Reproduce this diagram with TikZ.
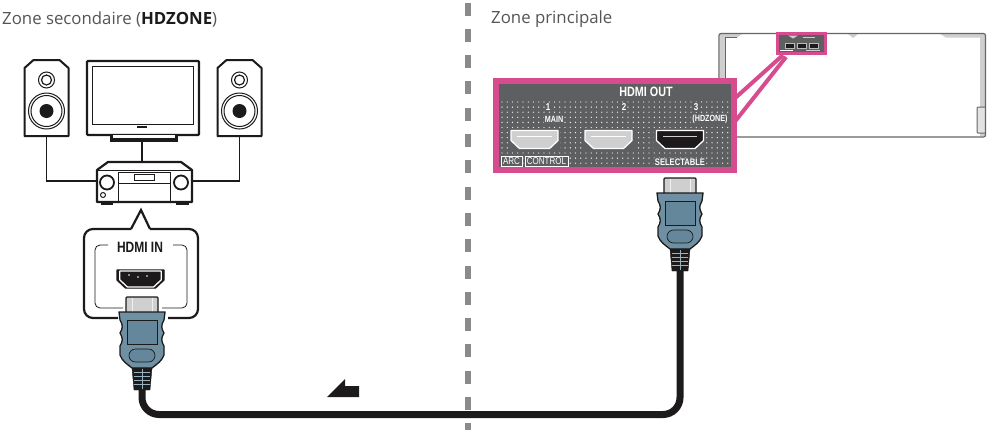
\documentclass[tikz,border=0pt]{standalone}
\usepackage{fontspec}
\setmainfont{Open Sans}
\newfontfamily\narrowfont[FakeStretch=0.8]{Liberation Sans}
\usetikzlibrary{calc}
\definecolor{zonetext}{HTML}{555555}
\definecolor{panelpink}{HTML}{D64C8E}
\definecolor{panelgray}{HTML}{5E5F61}
\definecolor{plugblue}{HTML}{6F8FA3}
\definecolor{pluginner}{HTML}{64879C}
\definecolor{metalgray}{HTML}{CFCFCF}
\definecolor{inkblack}{HTML}{1C1A1B}
\definecolor{divgray}{HTML}{8A8A8A}
\definecolor{backline}{HTML}{666666}
\tikzset{
    zonelabel/.style={anchor=west, inner sep=0pt, text=zonetext, font=\fontsize{16.8}{19}\selectfont},
    paneltext/.style={inner sep=1pt, fill=panelgray, text=white, font=\narrowfont\bfseries\fontsize{9}{10}\selectfont},
    boxtext/.style={fill=panelgray, text=white, draw=white, line width=0.6pt, minimum height=10, inner sep=0pt, font=\narrowfont\fontsize{10}{10}\selectfont},
    thinline/.style={draw=inkblack, line width=1pt},
    thickline/.style={draw=inkblack, line width=2.2pt},
    wire/.style={draw=inkblack, line width=1.8pt},
    pics/hdmiplug/.style={code={
        \draw[fill=metalgray, draw=inkblack, line width=1.3pt, rounded corners=1pt] (-16,0) rectangle (16,16);
        \draw[draw=white!70!metalgray, line width=1pt] (-10,1) -- (-10,15) (10,1) -- (10,15);
        \draw[fill=plugblue, draw=inkblack, line width=1.3pt]
            (-23,15) -- (23,15) -- (22,23) .. controls (19,28) and (19,31) .. (22,36)
            .. controls (19,41) and (19,44) .. (22,49) -- (22,58) .. controls (20,64) and (15,67) .. (10,71)
            -- (-10,71) .. controls (-15,67) and (-20,64) .. (-22,58) -- (-22,49)
            .. controls (-19,44) and (-19,41) .. (-22,36) .. controls (-19,31) and (-19,28) .. (-22,23) -- cycle;
        \draw[fill=pluginner, draw=inkblack, line width=0.7pt] (-15,23) rectangle (15,47);
        \draw[fill=pluginner, draw=inkblack, line width=0.7pt, rounded corners=6.5pt] (-13,52) rectangle (13,65);
        \draw[fill=inkblack, draw=inkblack] (-10,71) -- (10,71) -- (8,93) -- (-8,93) -- cycle;
        \foreach \i in {75,79,83,87} {
            \draw[draw=plugblue!70!white, line width=0.9pt] (-8,\i) -- (8,\i);
        }
        \draw[draw=plugblue!70!white, line width=0.7pt] (0,72) -- (0,92);
    }},
    pics/hdmiport/.style 2 args={code={
        \draw[fill=#1, draw=#2, line width=1.3pt, line join=round]
            (-23.5,-9) -- (23.5,-9) -- (23.5,1) -- (15,9) -- (-15,9) -- (-23.5,1) -- cycle;
    }},
    pics/speakerbox/.style={code={
        \draw[fill=white, draw=inkblack, line width=2pt, line join=round]
            (-22,37) -- (-22,-31) -- (-13,-39) -- (13,-39) -- (22,-31) -- (22,37) -- cycle;
        \draw[fill=white, draw=inkblack, line width=1pt] (0,-19) circle (8);
        \draw[fill=white, draw=inkblack, line width=1.2pt] (0,-19) circle (5);
        \draw[fill=white, draw=inkblack, line width=1pt] (0,12) circle (18);
        \draw[fill=white, draw=inkblack, line width=1pt] (0,12) circle (15.5);
        \fill[inkblack] (0,12) circle (7);
    }}
}
\begin{document}
\begin{tikzpicture}[x=1pt, y=-1pt]
            \useasboundingbox (0,0) rectangle (987,429);
            \fill[white] (0,0) rectangle (987,429);

            \node[zonelabel] (zoneb) at (2,19) {Zone secondaire ({\color{inkblack}\textbf{HDZONE}})};
            \node[zonelabel] (zonea) at (491,19) {Zone principale};

            \foreach \j in {0,...,16} {
                \fill[divgray] (464.5,2.5+26.3*\j) rectangle (471,15.5+26.3*\j);
            }

            \coordinate (tvfoot) at (142,141);
            \coordinate (spkl) at (46.5,136);
            \coordinate (spkr) at (239.5,136);
            \node[minimum width=95, minimum height=43, inner sep=0pt] (avr) at (144.5,181) {};

            \draw[wire] (spkl) |- (avr.west);
            \draw[wire] (spkr) |- (avr.east);
            \draw[wire] (tvfoot) -- (142,164);

            \pic at (46.5,99) {speakerbox};
            \pic at (239.5,99) {speakerbox};

            \draw[fill=white, thickline, rounded corners=1pt] (87,61) rectangle (199,135);
            \draw[thinline] (92.5,66) rectangle (193.5,124);
            \fill[inkblack] (137,125.5) rectangle (147,127.5);
            \draw[fill=inkblack, draw=inkblack, line width=1pt] (110,135) rectangle (177,141);
            \draw[fill=white, draw=white] (113,135.5) rectangle (174,137.5);

            \draw[fill=white, thickline, line join=round] (97,202) -- (97,170) -- (108,162) -- (181,162) -- (192,170) -- (192,202) -- cycle;
            \draw[thinline] (97,170) -- (192,170);
            \draw[fill=inkblack, draw=inkblack] (101,202) rectangle (112,204.5);
            \draw[fill=inkblack, draw=inkblack] (176,202) rectangle (188,204.5);
            \draw[thinline] (118,172) rectangle (170,201);
            \draw[thinline] (118,183) -- (170,183);
            \draw[fill=white, thinline] (134,174) rectangle (154,180);
            \foreach \i in {107,181} {
                \draw[fill=white, draw=inkblack, line width=1.8pt] (\i,182.5) circle (7);
            }
            \draw[thinline] (103,195) circle (2.5);

            \draw[fill=white, thickline, line join=round, rounded corners=9pt]
                (118,318) -- (84,318) -- (84,229) -- (131,229);
            \draw[thickline, line join=miter, fill=white] (131,229) -- (141,210) -- (150,229);
            \draw[thickline, rounded corners=9pt] (150,229) -- (198,229) -- (198,318) -- (168,318);
            \draw[draw=inkblack, line width=0.8pt, rounded corners=5pt]
                (108,245) -- (95,245) -- (95,308) -- (123,308);
            \draw[draw=inkblack, line width=0.8pt, rounded corners=5pt]
                (173,245) -- (187,245) -- (187,308) -- (162,308);
            \node[inner sep=0pt, text=inkblack, font=\narrowfont\bfseries\fontsize{15}{16}\selectfont] (hdmiin) at (140,247) {HDMI IN};
            \pic at (140.5,279) {hdmiport={inkblack}{inkblack}};
            \pic[scale=0.88] at (140.5,279) {hdmiport={inkblack}{white}};
            \foreach \i/\j in {129/275,138/277,147/276} {
                \fill[white] (\i,\j) circle (0.8);
            }

            \coordinate (plugl) at (142,297);
            \coordinate (plugr) at (680,178);
            \coordinate (cablel) at (142,388);
            \coordinate (cabler) at (680,269);
            \draw[draw=inkblack, line width=7pt, rounded corners=17pt]
                (cablel) -- (142,414.5) -- (680,414.5) -- (cabler);
            \pic at (plugl) {hdmiplug};
            \pic at (plugr) {hdmiplug};

            \fill[inkblack] (327,397) -- (345,379) -- (345,386) -- (359,386) -- (359,397) -- cycle;

            \fill[metalgray] (720,34) -- (742,34) -- (737,37.5) -- (725,37.5) -- (725,136) -- (720,136) -- cycle;
            \fill[metalgray] (940,34) -- (985,34) -- (985,136) -- (980,136) -- (980,37.5) -- (946,37.5) -- cycle;
            \fill[metalgray] (848,34) -- (858,34) -- (853,38) -- cycle;
            \draw[draw=backline, line width=1pt, fill=metalgray!60!white, rounded corners=1pt] (985,107) -- (977,107) -- (977,133) -- (985,133);
            \draw[draw=backline, line width=1.2pt, rounded corners=2pt] (719,33.5) rectangle (985.5,137);
            \draw[draw=backline, line width=0.5pt] (725,136) -- (725,37.5) -- (737,37.5);

            \node[fill=panelgray, draw=panelpink, line width=3pt, minimum width=48, minimum height=20, inner sep=0pt] (thumb) at (801.5,43.5) {};
            \foreach \i in {785,797,809} {
                \draw[fill=inkblack, draw=metalgray!80!panelgray, line width=0.6pt] (\i,43) rectangle (\i+9,48);
            }
            \draw[white, line width=1.2pt] (780,50.5) -- (793,50.5);
            \draw[white!70!panelgray, line width=0.6pt] (806,50.5) -- (820,50.5);
            \fill[metalgray] (788,35.5) -- (798,35.5) -- (793,38.5) -- cycle;
            \draw[white!70!panelgray, line width=0.6pt] (803,37) -- (815,37);

            \coordinate (linea) at (783,55);
            \coordinate (lineb) at (786,57);
            \coordinate (linec) at (733,100);
            \coordinate (lined) at (733,124);
            \draw[draw=panelpink, line width=4pt] (linea) -- (linec);
            \draw[draw=panelpink, line width=4pt] (lineb) -- (lined);

            \node[fill=panelgray, draw=panelpink, line width=6pt, minimum width=238, minimum height=89, inner sep=0pt] (panel) at (615,125.5) {};
            \foreach \i in {0,...,43} {
                \foreach \j in {0,...,12} {
                    \fill[white!90!panelgray] (502+5.25*\i,102+5.1*\j) circle (0.7);
                }
            }
            \fill[panelgray] (509,129) rectangle (560,150.5);
            \fill[panelgray] (583,129) rectangle (634,150.5);
            \fill[panelgray] (654,129) rectangle (705,150.5);
            \pic at (534.5,139.5) {hdmiport={metalgray}{white}};
            \pic at (608.5,139.5) {hdmiport={metalgray}{white}};
            \pic at (680,139.5) {hdmiport={inkblack}{white}};
            \draw[white, line width=0.5pt] (517,136) -- (552,136);
            \draw[white, line width=0.5pt] (591,136) -- (626,136);
            \draw[metalgray, line width=0.6pt] (663,136) -- (697,136);

            \node[paneltext, font=\narrowfont\bfseries\fontsize{13.5}{14}\selectfont, inner xsep=2pt] (hdmiout) at (646,92) {HDMI OUT};
            \node[paneltext, font=\narrowfont\bfseries\fontsize{10}{10}\selectfont] (portone) at (548,107) {1};
            \node[paneltext] (portonem) at (554,119) {MAIN};
            \node[paneltext, font=\narrowfont\bfseries\fontsize{10}{10}\selectfont] (porttwo) at (624,107) {2};
            \node[paneltext, font=\narrowfont\bfseries\fontsize{10}{10}\selectfont] (portthree) at (696,107) {3};
            \node[paneltext] (portthreeh) at (710,119) {(HDZONE)};
            \node[paneltext, font=\narrowfont\bfseries\fontsize{9.5}{10}\selectfont] (selectable) at (680,162) {SELECTABLE};
            \node[boxtext, minimum width=21] (arc) at (511.5,161) {ARC};
            \node[boxtext, minimum width=43] (control) at (546.5,161) {CONTROL};
        \end{tikzpicture}
\end{document}
